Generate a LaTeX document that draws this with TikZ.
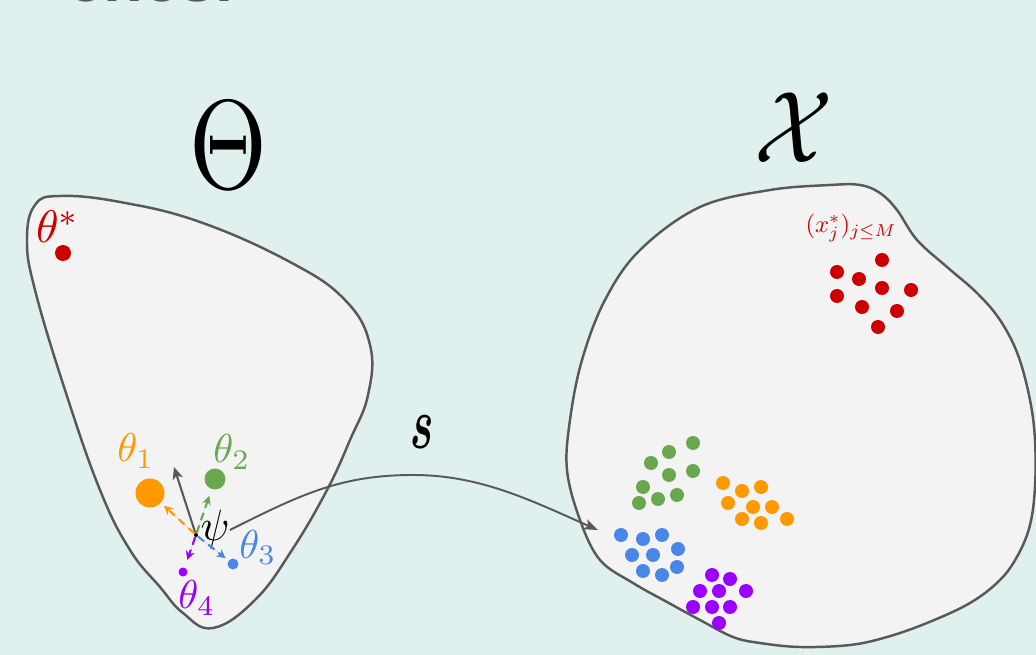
\documentclass[tikz,border=0pt]{standalone}
\usepackage{graphicx}
\usepackage{bm}
\usepackage{fontspec}
\newfontfamily\titlefont{Liberation Sans}
\usetikzlibrary{arrows.meta}
\definecolor{bg}{HTML}{DFF0EF}
\definecolor{blobfill}{HTML}{F3F3F3}
\definecolor{outline}{HTML}{595959}
\definecolor{cred}{HTML}{CC0000}
\definecolor{corange}{HTML}{FF9900}
\definecolor{cgreen}{HTML}{6AA84F}
\definecolor{cblue}{HTML}{4A86E8}
\definecolor{cpurple}{HTML}{9900FF}
\begin{document}
\begin{tikzpicture}[x=0.02cm,y=-0.02cm,
  blob/.style={draw=outline, fill=blobfill, line width=1.4pt},
  dot/.style={circle, inner sep=0pt, minimum size=#1},
  dot/.default=2.8mm,
  lbl/.style={inner sep=0pt},
  grayarrow/.style={draw=outline, line width=1.2pt, -{Stealth[length=7pt,width=6pt,inset=2pt]}},
  dasharrow/.style={dash pattern=on 4.5pt off 3pt, line width=1.2pt, -{Stealth[length=5pt,width=5pt,inset=1.5pt]}},
  curvearrow/.style={draw=outline, line width=1.1pt, -{Stealth[length=8pt,width=6pt,inset=2pt]}}
]
\useasboundingbox (0,0) rectangle (1036,655);
\clip (0,0) rectangle (1036,655);
\fill[bg] (0,0) rectangle (1036,655);

% cut-off title text
\node[anchor=base west, inner sep=0pt, text=outline, font=\titlefont\bfseries\fontsize{37}{40}\selectfont] (title) at (67,1.2) {ches.};

% blobs
\draw[blob] plot[smooth cycle, tension=0.7] coordinates {
  (60,196) (120,202) (200,222) (290,262) (345,300) (370,345) (368,395)
  (350,440) (327,490) (292,550) (255,600) (213,628) (183,613) (160,587)
  (130,550) (100,490) (65,390) (35,290) (27,240) (35,205)};
\draw[blob] plot[smooth cycle, tension=0.6] coordinates {
  (770,190) (830,185) (860,185) (880,193) (897,210) (917,240) (947,267)
  (977,293) (1000,320) (1018,355) (1030,400) (1035,440) (1035,487)
  (1030,525) (1018,555) (1000,580) (970,603) (927,623) (887,637) (850,645)
  (800,647) (760,643) (733,637) (700,620) (667,602) (633,583) (600,560)
  (580,520) (567,470) (570,420) (582,360) (605,300) (640,250) (700,207)};

% big labels
\node[lbl] (Theta) at (228,145) {\scalebox{5.7}[7.2]{$\Theta$}};
\node[lbl] (Xcal) at (794,128) {\scalebox{5.2}[5.8]{$\mathcal{X}$}};
\node[lbl] (s) at (422,432) {\scalebox{2.5}[4.2]{$\bm{s}$}};

% theta star
\node[dot=3.2mm, fill=cred] (tstar) at (63,253) {};
\node[lbl, text=cred] (tstarlbl) at (58,227) {\scalebox{2.6}{$\theta^*$}};

% left points
\node[dot=0.8mm, fill=black] (c) at (196,535) {};
\node[dot=5.8mm, fill=corange] (t1) at (150,493) {};
\node[dot=4.2mm, fill=cgreen] (t2) at (215,479) {};
\node[dot=2.2mm, fill=cblue] (t3) at (233,564) {};
\node[dot=1.8mm, fill=cpurple] (t4) at (183,572) {};

\node[lbl, text=corange] (t1lbl) at (136,451) {\scalebox{2.3}{$\theta_1$}};
\node[lbl, text=cgreen] (t2lbl) at (232,452) {\scalebox{2.3}{$\theta_2$}};
\node[lbl, text=cblue] (t3lbl) at (258,547) {\scalebox{2.3}{$\theta_3$}};
\node[lbl, text=cpurple] (t4lbl) at (197,598) {\scalebox{2.3}{$\theta_4$}};
\node[lbl] (psi) at (215,530) {\scalebox{2.4}[2.5]{$\psi$}};

% arrows
\coordinate (gtip) at (174,467);
\draw[grayarrow] (c) -- (gtip);
\draw[dasharrow, draw=corange, fill=corange, shorten >=0.8mm] (c) -- (t1);
\draw[dasharrow, draw=cgreen, fill=cgreen, shorten >=1.4mm] (c) -- (t2);
\draw[dasharrow, draw=cblue, fill=cblue, shorten >=0.7mm] (c) -- (t3);
\draw[dasharrow, draw=cpurple, fill=cpurple, shorten >=1.6mm] (c) -- (t4);

\coordinate (send) at (598,530);
\draw[curvearrow] (psi.east) .. controls (300,495) and (340,475) .. (413,475)
  .. controls (480,475) and (530,500) .. (send);

% target label
\node[lbl, text=cred] (xlbl) at (851,228) {\scalebox{1.4}{$(x^*_j)_{j\leq M}$}};

% clusters
\foreach \p in {(882,260),(837,272),(859,279),(882,288),(911,290),(837,296),(862,307),(897,311),(878,327)}
  \fill[cred] \p circle[radius=7];
\foreach \p in {(693,443),(669,452),(651,463),(669,475),(693,471),(643,487),(677,495),(658,499),(639,503)}
  \fill[cgreen] \p circle[radius=7];
\foreach \p in {(723,483),(742,491),(761,487),(728,503),(753,507),(772,507),(742,519),(761,523),(787,519)}
  \fill[corange] \p circle[radius=7];
\foreach \p in {(621,535),(643,539),(662,535),(632,555),(653,555),(678,549),(643,571),(662,575),(677,567)}
  \fill[cblue] \p circle[radius=7];
\foreach \p in {(712,575),(730,579),(700,591),(719,591),(746,591),(693,607),(712,607),(730,607),(719,623)}
  \fill[cpurple] \p circle[radius=7];
\end{tikzpicture}
\end{document}
